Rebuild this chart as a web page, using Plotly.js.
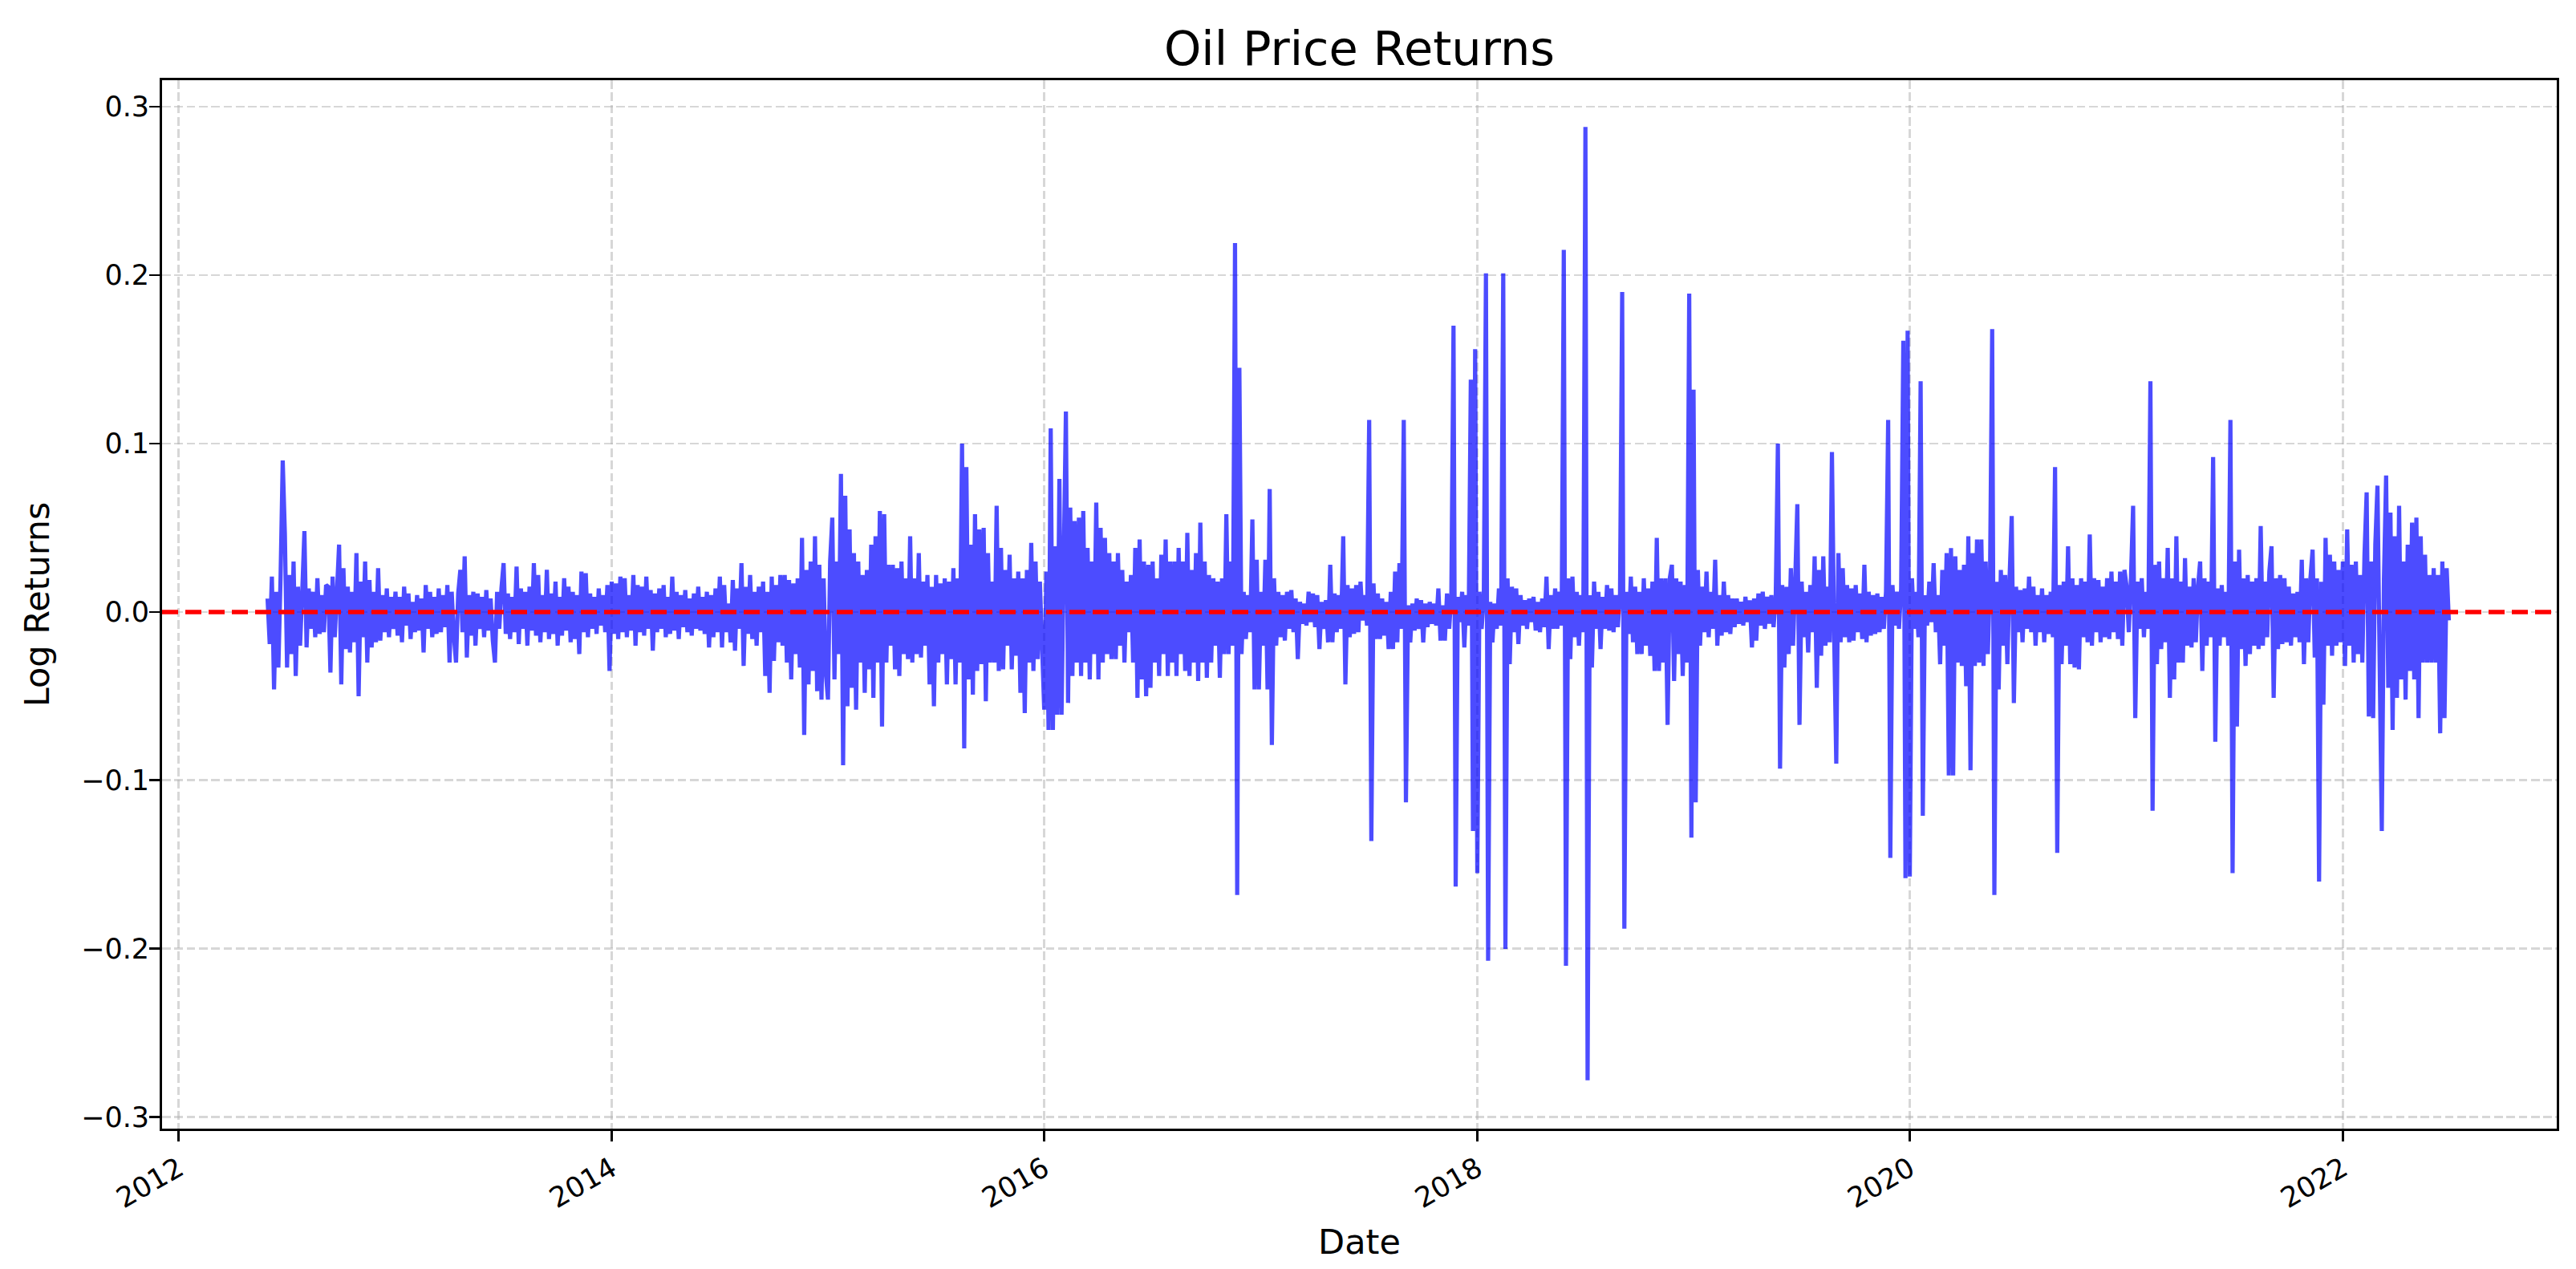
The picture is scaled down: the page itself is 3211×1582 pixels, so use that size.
<!DOCTYPE html>
<html>
<head>
<meta charset="utf-8">
<script src="https://cdn.plot.ly/plotly-3.0.1.min.js"></script>
<style>
html, body { margin: 0; padding: 0; background: #ffffff; }
#chart { width: 3211px; height: 1582px; }
</style>
</head>
<body>
<div id="chart"></div>
<script>
// Daily-ish log returns, one array per calendar year.
// Each value sits at (offset + i) hundredths of its year.
const ret2012 = [0.008, -0.019, 0.021, -0.046, 0.012, -0.033, 0.02, 0.09, 0.046, -0.033,
  0.022, -0.025, 0.03, -0.038, 0.015, -0.02, 0.012, 0.048, -0.021, 0.014,
  -0.01, 0.012, -0.015, 0.02, -0.013, 0.01, -0.012, 0.016, 0.015, -0.036,
  0.021, -0.015, 0.012, 0.04, -0.043, 0.026, -0.022, 0.015, -0.024, 0.012,
  -0.018, 0.035, -0.05, 0.018, -0.015, 0.03, -0.03, 0.019, -0.021, 0.012,
  -0.018, 0.026, -0.017, 0.01, -0.012, 0.014, -0.015, 0.009, -0.01];
const ret2013 = [0.012, -0.014, 0.009, -0.018, 0.015, -0.008, 0.011, -0.016, 0.006, -0.012,
  0.01, -0.011, 0.008, -0.024, 0.016, -0.01, 0.012, -0.015, 0.009, -0.013,
  0.014, -0.012, 0.01, -0.009, 0.016, -0.03, 0.012, -0.014, -0.03, 0.011,
  0.025, -0.012, 0.033, -0.027, 0.01, -0.014, 0.012, -0.02, 0.011, -0.01,
  0.009, -0.015, 0.013, -0.011, 0.008, -0.017, -0.03, 0.012, -0.01, 0.014,
  0.029, -0.013, 0.011, -0.016, 0.009, -0.012, 0.027, -0.019, 0.014, -0.01,
  0.012, -0.02, 0.015, -0.011, 0.029, -0.014, 0.022, -0.018, 0.01, -0.012,
  0.025, -0.016, 0.011, -0.013, 0.018, -0.02, 0.009, -0.014, 0.02, -0.011,
  0.015, -0.018, 0.012, -0.016, 0.01, -0.025, 0.024, -0.012, 0.023, -0.015,
  0.011, -0.01, 0.009, -0.013, 0.014, -0.008, 0.01, -0.012, 0.016, -0.035];
const ret2014 = [0.018, -0.013, 0.017, -0.016, 0.021, -0.012, 0.02, -0.015, 0.01, -0.011,
  0.022, -0.02, 0.016, -0.012, 0.015, -0.014, 0.021, -0.01, 0.013, -0.023,
  0.011, -0.012, 0.014, -0.01, 0.016, -0.015, 0.009, -0.013, 0.021, -0.011,
  0.012, -0.016, 0.01, -0.009, 0.013, -0.012, 0.008, -0.014, 0.011, -0.01,
  0.015, -0.011, 0.009, -0.013, 0.012, -0.021, 0.01, -0.015, 0.014, -0.012,
  0.021, -0.021, 0.016, -0.012, 0.005, -0.018, 0.019, -0.023, 0.014, -0.01,
  0.029, -0.032, 0.015, -0.013, 0.022, -0.016, 0.012, -0.02, 0.015, -0.012,
  0.018, -0.038, 0.012, -0.048, 0.021, -0.029, 0.016, -0.018, 0.022, -0.02,
  0.022, -0.03, 0.019, -0.04, 0.017, -0.025, 0.02, -0.033, 0.044, -0.073,
  0.025, -0.043, 0.03, -0.035, 0.045, -0.047, 0.028, -0.052, 0.02, -0.036];
const ret2015 = [-0.052, 0.03, 0.056, -0.04, 0.03, -0.025, 0.082, -0.091, 0.069, -0.056,
  0.049, -0.045, 0.035, -0.058, 0.03, -0.03, 0.022, -0.048, 0.025, -0.034,
  0.04, -0.051, 0.045, -0.03, 0.06, -0.068, 0.058, -0.03, 0.028, -0.02,
  0.028, -0.034, 0.026, -0.038, 0.03, -0.025, 0.02, -0.028, 0.045, -0.03,
  0.02, -0.025, 0.035, -0.027, 0.018, -0.02, 0.022, -0.043, 0.015, -0.056,
  0.022, -0.03, 0.017, -0.025, 0.02, -0.043, 0.018, -0.028, 0.026, -0.043,
  0.02, -0.03, 0.1, -0.081, 0.086, -0.04, 0.04, -0.049, 0.058, -0.035,
  0.049, -0.031, 0.05, -0.053, 0.035, -0.03, 0.018, -0.03, 0.063, -0.035,
  0.038, -0.034, 0.025, -0.02, 0.034, -0.034, 0.02, -0.026, 0.024, -0.048,
  0.02, -0.06, 0.025, -0.03, 0.041, -0.035, 0.03, -0.028, 0.018, -0.02];
const ret2016 = [-0.058, 0.024, -0.07, 0.109, -0.07, 0.039, -0.061, 0.079, -0.061, 0.03,
  0.119, -0.054, 0.062, -0.038, 0.054, -0.03, 0.056, -0.038, 0.06, -0.03,
  0.038, -0.04, 0.03, -0.025, 0.065, -0.04, 0.05, -0.03, 0.044, -0.025,
  0.035, -0.028, 0.03, -0.028, 0.035, -0.02, 0.025, -0.03, 0.018, -0.012,
  0.022, -0.03, 0.038, -0.051, 0.043, -0.04, 0.03, -0.05, 0.028, -0.045,
  0.03, -0.03, 0.02, -0.038, 0.034, -0.025, 0.043, -0.038, 0.03, -0.03,
  0.03, -0.038, 0.038, -0.025, 0.03, -0.035, 0.047, -0.038, 0.025, -0.03,
  0.035, -0.041, 0.053, -0.03, 0.03, -0.039, 0.022, -0.03, 0.02, -0.02,
  0.018, -0.039, 0.02, -0.025, 0.058, -0.025, 0.03, -0.02, 0.219, -0.168,
  0.145, -0.025, 0.012, -0.016, 0.01, -0.012, 0.055, -0.046, 0.031, -0.046];
const ret2017 = [0.012, -0.02, 0.031, -0.046, 0.073, -0.079, 0.02, -0.02, 0.012, -0.015,
  0.01, -0.017, 0.012, -0.01, 0.013, -0.012, 0.008, -0.028, 0.006, -0.007,
  0.005, -0.008, 0.012, -0.006, 0.011, -0.009, 0.01, -0.022, 0.006, -0.01,
  0.007, -0.018, 0.028, -0.018, 0.011, -0.012, 0.01, -0.01, 0.045, -0.043,
  0.016, -0.015, 0.014, -0.013, 0.016, -0.012, 0.018, -0.005, 0.01, -0.008,
  0.114, -0.136, 0.017, -0.016, 0.011, -0.016, 0.008, -0.014, 0.006, -0.022,
  0.012, -0.022, 0.024, -0.018, 0.029, -0.01, 0.114, -0.113, 0.004, -0.018,
  0.005, -0.011, 0.008, -0.01, 0.007, -0.018, 0.005, -0.009, 0.006, -0.007,
  0.005, -0.008, 0.014, -0.017, 0.004, -0.017, 0.011, -0.01, 0.01, 0.17,
  -0.163, 0.009, -0.006, 0.012, -0.021, 0.01, -0.008, 0.138, -0.13, 0.156];
const ret2018 = [-0.155, 0.012, -0.01, 0.008, 0.201, -0.207, 0.006, -0.018, 0.005, -0.01,
  0.014, -0.008, 0.201, -0.2, 0.02, -0.031, 0.015, -0.012, 0.014, -0.019,
  0.01, -0.008, 0.007, -0.01, 0.008, -0.006, 0.009, -0.011, 0.006, -0.012,
  0.008, -0.009, 0.021, -0.022, 0.01, -0.01, 0.014, -0.01, 0.012, -0.008,
  0.215, -0.21, 0.02, -0.028, 0.021, -0.015, 0.012, -0.02, 0.01, -0.012,
  0.288, -0.278, 0.01, -0.033, 0.018, -0.01, 0.012, -0.022, 0.009, -0.01,
  0.016, -0.011, 0.014, -0.012, 0.01, -0.009, 0.011, 0.19, -0.188, 0.012,
  -0.013, 0.021, -0.018, 0.015, -0.025, 0.012, -0.025, 0.02, -0.02, 0.014,
  -0.026, 0.018, -0.035, 0.044, -0.035, 0.02, -0.03, 0.02, -0.067, 0.02,
  0.028, -0.041, 0.02, -0.025, 0.018, -0.038, 0.016, -0.03, 0.189, -0.134];
const ret2019 = [0.132, -0.113, 0.025, -0.02, 0.015, -0.012, 0.024, -0.015, 0.012, -0.01,
  0.031, -0.02, 0.01, -0.014, 0.018, -0.012, 0.01, -0.013, 0.008, -0.009,
  0.008, -0.007, 0.006, -0.008, 0.009, -0.006, 0.007, -0.021, 0.008, -0.017,
  0.011, -0.008, 0.012, -0.01, 0.009, -0.007, 0.01, -0.009, 0.008, 0.1,
  -0.093, 0.016, -0.033, 0.015, -0.025, 0.026, -0.02, 0.018, 0.064, -0.067,
  0.018, -0.015, 0.012, -0.024, 0.016, -0.012, 0.033, -0.045, 0.025, -0.026,
  0.033, -0.02, 0.015, -0.018, 0.095, -0.012, -0.09, 0.035, -0.018, 0.026,
  -0.015, 0.016, -0.018, 0.014, -0.017, 0.016, -0.012, 0.011, -0.016, 0.028,
  -0.018, 0.012, -0.014, 0.01, -0.013, 0.011, -0.012, 0.009, -0.01, 0.012,
  0.114, -0.146, 0.016, -0.008, 0.012, -0.01, 0.014, 0.161, -0.158, 0.167];
const ret2020 = [-0.157, 0.02, -0.01, 0.012, -0.015, 0.137, -0.121, 0.01, -0.008, 0.018,
  -0.006, 0.029, -0.012, 0.01, -0.031, 0.025, -0.02, 0.035, -0.097, 0.038,
  -0.097, 0.033, -0.03, 0.025, -0.032, 0.028, -0.044, 0.045, -0.094, 0.035,
  -0.032, 0.043, -0.03, 0.043, -0.032, 0.03, -0.025, 0.02, 0.168, -0.168,
  0.018, -0.046, 0.025, -0.02, 0.022, -0.031, 0.02, 0.057, -0.054, 0.015,
  -0.012, 0.013, -0.018, 0.014, -0.01, 0.021, -0.012, 0.015, -0.02, 0.01,
  -0.012, 0.014, -0.018, 0.01, -0.013, 0.012, -0.015, 0.086, -0.143, 0.016,
  -0.031, 0.018, -0.02, 0.039, -0.031, 0.02, -0.033, 0.016, -0.034, 0.02,
  -0.015, 0.018, -0.018, 0.046, -0.02, 0.02, -0.012, 0.019, -0.018, 0.015,
  -0.015, 0.02, -0.016, 0.024, -0.012, 0.018, -0.016, 0.024, -0.02, 0.025];
const ret2021 = [0.015, -0.012, 0.02, 0.063, -0.063, 0.018, -0.01, 0.02, -0.015, 0.012,
  -0.01, 0.137, -0.118, 0.028, -0.031, 0.03, -0.022, 0.02, -0.018, 0.038,
  -0.051, 0.02, -0.04, 0.045, -0.03, 0.018, -0.03, 0.032, -0.02, 0.015,
  -0.021, 0.02, -0.018, 0.015, 0.03, -0.035, 0.02, -0.02, 0.018, -0.015,
  0.092, -0.077, 0.014, -0.02, 0.016, -0.015, 0.012, -0.02, 0.114, -0.155,
  0.03, -0.068, 0.037, -0.022, 0.02, -0.032, 0.022, -0.025, 0.018, -0.02,
  0.02, -0.022, 0.051, -0.02, 0.018, -0.015, 0.024, 0.039, -0.051, 0.02,
  -0.022, 0.022, -0.019, 0.02, -0.018, 0.015, -0.02, 0.011, -0.015, 0.012,
  -0.018, 0.031, -0.031, 0.02, -0.018, 0.02, 0.037, -0.027, 0.02, -0.16,
  0.018, -0.055, 0.044, -0.02, 0.034, -0.026, 0.03, -0.02, 0.025, -0.018];
const ret2022 = [0.03, -0.032, 0.049, -0.02, 0.028, -0.03, 0.03, -0.025, 0.022, -0.03,
  0.034, 0.071, -0.062, 0.03, -0.063, 0.04, 0.075, -0.03, -0.13, 0.02,
  0.081, -0.045, 0.059, -0.07, 0.045, -0.051, 0.063, -0.04, 0.03, -0.052,
  0.04, -0.035, 0.053, -0.04, 0.056, -0.063, 0.045, -0.03, 0.034, -0.03,
  0.022, -0.03, 0.026, -0.03, 0.022, -0.072, 0.03, -0.063, 0.026, -0.005];

const segmentYears = [2012, 2013, 2014, 2015, 2016, 2017, 2018, 2019, 2020, 2021, 2022];
const segmentOffsets = [41, 0, 0, 0, 0, 0, 0, 0, 0, 0, 0];
const segmentValues = [ret2012, ret2013, ret2014, ret2015, ret2016, ret2017, ret2018, ret2019, ret2020, ret2021, ret2022];

const xTickVals = ['2012-01-01', '2014-01-01', '2016-01-01', '2018-01-01', '2020-01-01', '2022-01-01'];
const xTickText = ['2012', '2014', '2016', '2018', '2020', '2022'];
const yTickVals = [-0.3, -0.2, -0.1, 0.0, 0.1, 0.2, 0.3];
const yTickText = ['\u22120.3', '\u22120.2', '\u22120.1', '0.0', '0.1', '0.2', '0.3'];

function pad(n) { return (n < 10 ? '0' : '') + n; }
function fmt(ms) {
  const d = new Date(ms);
  return d.getUTCFullYear() + '-' + pad(d.getUTCMonth() + 1) + '-' + pad(d.getUTCDate()) +
    ' ' + pad(d.getUTCHours()) + ':' + pad(d.getUTCMinutes());
}

const dates = [];
const returns = [];
segmentYears.forEach(function (yr, k) {
  const t0 = Date.UTC(yr, 0, 1);
  const t1 = Date.UTC(yr + 1, 0, 1);
  const step = (t1 - t0) / 100;
  segmentValues[k].forEach(function (v, i) {
    dates.push(fmt(t0 + (segmentOffsets[k] + i) * step));
    returns.push(v);
  });
});

const trace = {
  type: 'scatter',
  mode: 'lines',
  x: dates,
  y: returns,
  line: { color: 'rgba(0,0,255,0.7)', width: 5.2, simplify: false },
  hoverinfo: 'skip',
  showlegend: false
};

const gridColor = 'rgba(176,176,176,0.5)';
const layout = {
  width: 3211,
  height: 1582,
  margin: { l: 202, r: 24, t: 100, b: 175, pad: 0 },
  paper_bgcolor: '#ffffff',
  plot_bgcolor: '#ffffff',
  font: { family: 'DejaVu Sans, sans-serif', color: '#000000', size: 35 },
  showlegend: false,
  title: {
    text: 'Oil Price Returns',
    font: { family: 'DejaVu Sans, sans-serif', size: 59, color: '#000000' },
    x: 0.5, xref: 'paper', xanchor: 'center',
    y: 0.962, yref: 'container', yanchor: 'middle'
  },
  xaxis: {
    type: 'date',
    range: ['2011-12-04', '2022-12-28'],
    tickmode: 'array',
    tickvals: xTickVals,
    ticktext: xTickText,
    tickangle: -30,
    ticks: 'outside', ticklen: 13, tickwidth: 2.9, tickcolor: '#000000',
    tickfont: { size: 35, color: '#000000' },
    showline: true, mirror: true, linecolor: '#000000', linewidth: 2.9,
    showgrid: true, gridcolor: gridColor, gridwidth: 2.9, griddash: '10.7px,4.6px',
    zeroline: false,
    title: { text: 'Date', font: { size: 43, color: '#000000' }, standoff: 20 }
  },
  yaxis: {
    range: [-0.3067, 0.3157],
    tickmode: 'array',
    tickvals: yTickVals,
    ticktext: yTickText,
    ticks: 'outside', ticklen: 13, tickwidth: 2.9, tickcolor: '#000000',
    tickfont: { size: 35, color: '#000000' },
    ticklabelstandoff: -7,
    showline: true, mirror: true, linecolor: '#000000', linewidth: 2.9,
    showgrid: true, gridcolor: gridColor, gridwidth: 2.9, griddash: '10.7px,4.6px',
    zeroline: false,
    title: { text: 'Log Returns', font: { size: 43, color: '#000000' }, standoff: 26 }
  },
  shapes: [{
    type: 'line', xref: 'paper', x0: 0, x1: 1, yref: 'y', y0: 0, y1: 0,
    line: { color: '#ff0000', width: 5.4, dash: '20px,9px' }, layer: 'above'
  }]
};

Plotly.newPlot('chart', [trace], layout, { staticPlot: true, displayModeBar: false });
</script>
</body>
</html>
